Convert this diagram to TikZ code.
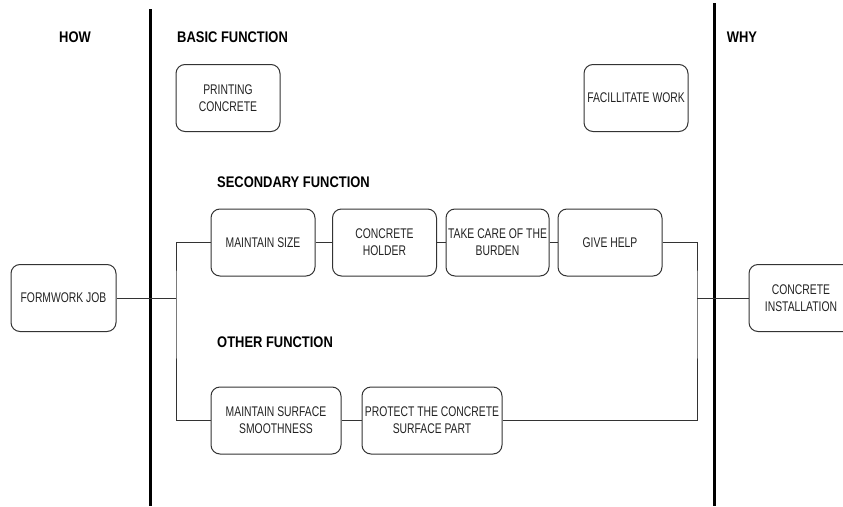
\documentclass[tikz,border=0pt]{standalone}
\usepackage{fontspec}
\setmainfont{Liberation Sans}
\newfontfamily\boxfont[FakeStretch=0.74]{Liberation Sans}
\newfontfamily\headfont[FakeStretch=0.84]{Liberation Sans Bold}
\definecolor{boxline}{HTML}{333333}
\definecolor{txt}{HTML}{222222}
\begin{document}
\begin{tikzpicture}[x=1pt,y=-1pt,
  fbox/.style={draw=boxline, line width=1pt, rounded corners=9pt, align=center,
    minimum width=104pt, minimum height=67pt, inner sep=0pt, text=txt,
    font=\boxfont\fontsize{14}{17}\selectfont},
  head/.style={inner sep=0pt, text=black, font=\headfont\fontsize{15.4}{18}\selectfont},
  link/.style={draw=boxline, line width=1pt},
  divider/.style={draw=black, line width=3pt}]
\useasboundingbox (0,0) rectangle (843,506);
% dividers
\coordinate (d1t) at (150,9);
\coordinate (d1b) at (150,506);
\coordinate (d2t) at (714,3);
\coordinate (d2b) at (714,506);
\draw[divider] (d1t) -- (d1b);
\draw[divider] (d2t) -- (d2b);
% headings
\node[head] (how) at (75,37) {HOW};
\node[head] (why) at (742,37) {WHY};
\node[head, anchor=west] (basic) at (177,37) {BASIC FUNCTION};
\node[head, anchor=west] (second) at (217,182) {SECONDARY FUNCTION};
\node[head, anchor=west] (other) at (217,342.5) {OTHER FUNCTION};
% boxes
\node[fbox] (pc1) at (228,98) {PRINTING\\CONCRETE};
\node[fbox] (fw) at (636,98) {FACILLITATE WORK};
\node[fbox] (ms) at (263,242.5) {MAINTAIN SIZE};
\node[fbox] (ch) at (384.5,242.5) {CONCRETE\\HOLDER};
\node[fbox, minimum width=103pt] (tc) at (497.5,242.5) {TAKE CARE OF THE\\BURDEN};
\node[fbox] (gh) at (610,242.5) {GIVE HELP};
\node[fbox, minimum width=105pt] (fj) at (63.5,298) {FORMWORK JOB};
\node[fbox] (ci) at (801,298) {CONCRETE\\INSTALLATION};
\node[fbox, minimum width=130pt] (mss) at (276,420.5) {MAINTAIN SURFACE\\SMOOTHNESS};
\node[fbox, minimum width=140pt] (pcs) at (432,420.5) {PROTECT THE CONCRETE\\SURFACE PART};
% connectors
\coordinate (jl) at (176,298);
\coordinate (jr) at (697,298);
\draw[link] (fj.east) -- (jl);
\draw[link] (ms.west) -| (jl) |- (mss.west);
\draw[link] (ms.east) -- (ch.west);
\draw[link] (ch.east) -- (tc.west);
\draw[link] (tc.east) -- (gh.west);
\draw[link] (mss.east) -- (pcs.west);
\draw[link] (gh.east) -| (jr) |- (pcs.east);
\draw[link] (jr) -- (ci.west);
\end{tikzpicture}
\end{document}
